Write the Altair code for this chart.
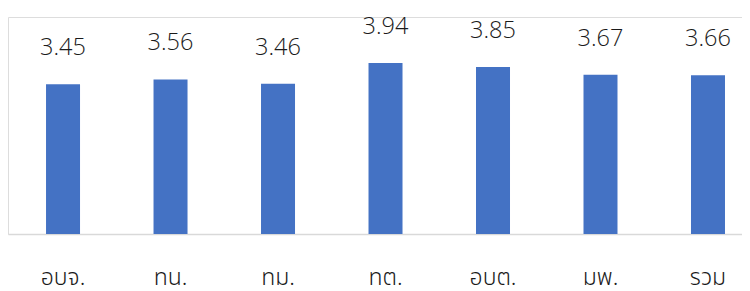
import altair as alt
import pandas as pd

categories = ["อบจ.", "ทน.", "ทม.", "ทต.", "อบต.", "มพ.", "รวม"]
values = [3.45, 3.56, 3.46, 3.94, 3.85, 3.67, 3.66]

df = pd.DataFrame({"cat": categories, "val": values})
df["lbl"] = df["val"].map(lambda v: f"{v:.2f}")

NUMFONT = "Open Sans"
THAIFONT = "Noto Sans Thai, Noto Sans"

x = alt.X("cat:N", sort=categories, title=None,
          scale=alt.Scale(paddingInner=0.6837, paddingOuter=0.256, align=0.691),
          axis=alt.Axis(labelAngle=0, ticks=False, domainColor="#d9d9d9", domainWidth=1.5,
                        labelFontSize=23, labelFont=THAIFONT, labelFontWeight=300,
                        labelColor="#1a1a1a", labelPadding=32, grid=False))
y = alt.Y("val:Q", scale=alt.Scale(domain=[0, 5]), axis=None)

bars = alt.Chart(df).mark_bar(color="#4472C4").encode(x=x, y=y)
text = alt.Chart(df).mark_text(dy=-29, baseline="alphabetic", fontSize=23.5, font=NUMFONT,
                               fontWeight=300, color="#1a1a1a").encode(x=x, y=y, text="lbl:N")

chart = (bars + text).properties(
    width=734, height=217,
    padding={"left": 0, "top": 9, "right": 0, "bottom": 62},
    autosize=alt.AutoSizeParams(type="none"),
).configure_view(stroke="transparent", strokeWidth=0).configure(background="white")

chart.save("out.html", embed_options={"renderer": "svg", "actions": False})
